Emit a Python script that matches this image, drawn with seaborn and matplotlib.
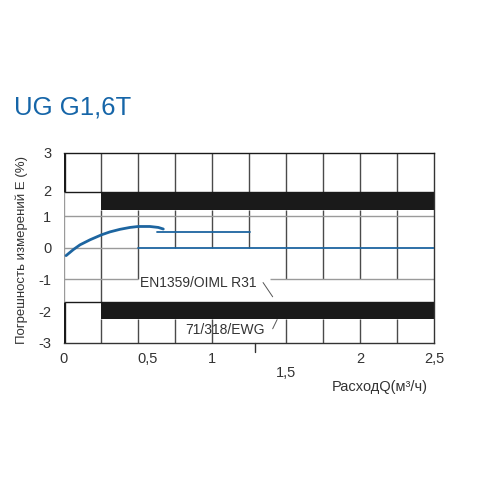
import matplotlib
matplotlib.use("Agg")
import matplotlib.pyplot as plt
import matplotlib.transforms as mtransforms
import seaborn as sns
import pandas as pd

# данные кривой погрешности
curve_q = [0.014, 0.063, 0.108, 0.176, 0.255, 0.311, 0.378, 0.446, 0.502, 0.58, 0.637, 0.671]
curve_e = [-0.25, -0.06, 0.09, 0.25, 0.41, 0.50, 0.58, 0.64, 0.67, 0.67, 0.64, 0.59]
# ступенька 0,5 % и линия 0
step_q = [0.63, 1.26]
step_e = [0.5, 0.5]
zero_q = [0.5, 2.5]
zero_e = [0.0, 0.0]

# границы допустимой погрешности (черные полосы)
band_q = [0.25, 2.5]
band_upper = [1.19, 1.75]
band_lower = [-2.25, -1.71]

x_ticks = [0, 0.5, 1, 1.5, 2, 2.5]
x_labels = ["0", "0,5", "1", "1,5", "2", "2,5"]
y_ticks = [3, 1.8, 1, 0, -1, -2, -3]
y_labels = ["3", "2", "1", "0", "-1", "-2", "-3"]

title = "UG G1,6T"
xlabel = "РасходQ(м³/ч)"
ylabel = "Погрешность измерений E (%)"
note_top = "EN1359/OIML R31"
note_bottom = "71/318/EWG"

blue = "#1d65a0"
dark = "#1a1a1a"
grid_c = "#4a4a4a"
light = "#9a9a9a"

sns.set_style("white")
plt.rcParams['font.family'] = ['Liberation Sans', 'DejaVu Sans']

fig = plt.figure(figsize=(5, 5), dpi=100)
ax = fig.add_axes([0.128, 0.3146, 0.74, 0.38])
ax.set_xlim(0, 2.5)
ax.set_ylim(-3, 3)

# сетка - вертикали
cols = [0.25, 0.5, 0.75, 1.0, 1.25, 1.5, 1.75, 2.0, 2.25]
ax.vlines(cols, 1.75, 3, color=grid_c, lw=1, zorder=1)
mid_bottom = {0.25: -1.71, 0.5: -1, 0.75: 0, 1.0: 0, 1.25: 0}
for c in cols:
    ax.vlines(c, mid_bottom.get(c, -1), 1.19, color=grid_c, lw=1, zorder=1)
    if c != 1.25:
        ax.vlines(c, -3, -2.25, color=grid_c, lw=1, zorder=1)
# горизонтали
ax.hlines([1.75, -1.71], 0, 2.5, color=dark, lw=1, zorder=1)
ax.hlines(1, 0, 2.5, color=light, lw=1, zorder=1)
ax.hlines(0, 0, 0.5, color=light, lw=1, zorder=1)
ax.hlines(-1, 0, 0.5, color=light, lw=1, zorder=1)
ax.hlines(-1, 1.39, 2.5, color=light, lw=1, zorder=1)
# левая ось
ax.vlines(0, -3, 3, color=light, lw=1, zorder=2)
ax.vlines(0, 1.75, 3, color=dark, lw=2.4, zorder=3)
ax.vlines(0, -3, -1.71, color=dark, lw=2.4, zorder=3)

# черные полосы
ax.fill_between(band_q, band_upper[0], band_upper[1], color=dark, lw=0, zorder=2)
ax.fill_between(band_q, band_lower[0], band_lower[1], color=dark, lw=0, zorder=2)

# кривые
sns.lineplot(x=zero_q, y=zero_e, color=blue, lw=1.3, ax=ax, zorder=4)
sns.lineplot(x=step_q, y=step_e, color=blue, lw=1.3, ax=ax, zorder=4)
df = pd.DataFrame({"Q": curve_q, "E": curve_e})
sns.lineplot(data=df, x="Q", y="E", color=blue, lw=2.0, sort=False, ax=ax, zorder=5)
ax.set_xlabel("")
ax.set_ylabel("")

# подписи норм
ax.text(0.91, -1.12, note_top, ha="center", va="center", fontsize=10, color="#333333", zorder=6)
ax.text(1.09, -2.6, note_bottom, ha="center", va="center", fontsize=10, color="#333333", zorder=6)
ax.plot([1.345, 1.41], [-1.10, -1.55], color="#555555", lw=0.7, zorder=6)
ax.plot([1.41, 1.44], [-2.56, -2.27], color="#555555", lw=0.7, zorder=6)
ax.plot([1.29, 1.29], [-3, -3.3], color="#333333", lw=1, clip_on=False)

# рамка
for s in ["top", "right", "bottom"]:
    ax.spines[s].set_visible(True)
    ax.spines[s].set_color("#333333")
    ax.spines[s].set_linewidth(1)
ax.spines["top"].set_color(dark)
ax.spines["left"].set_visible(False)

ax.set_xticks(x_ticks)
ax.set_xticklabels(x_labels)
ax.set_yticks(y_ticks)
ax.set_yticklabels(y_labels)
ax.tick_params(axis="both", length=0, labelsize=10.5, labelcolor="#333333")
ax.tick_params(axis="x", pad=7)
ax.tick_params(axis="y", pad=9)
ax.xaxis.get_major_ticks()[3].set_pad(17)
# "0,5" на скане сдвинута вправо
lab = ax.get_xticklabels()[1]
lab.set_transform(lab.get_transform() + mtransforms.ScaledTranslation(10 / 100, 0, fig.dpi_scale_trans))

fig.text(0.856, 0.226, xlabel, ha="right", va="center", fontsize=10.5, color="#333333")
fig.text(0.044, 0.50, ylabel, ha="center", va="center", rotation=90, fontsize=9.5, color="#333333")
fig.text(0.028, 0.7706, title, ha="left", va="baseline", fontsize=18.5, color="#1565a8")

fig.savefig("out.png", dpi=100)
